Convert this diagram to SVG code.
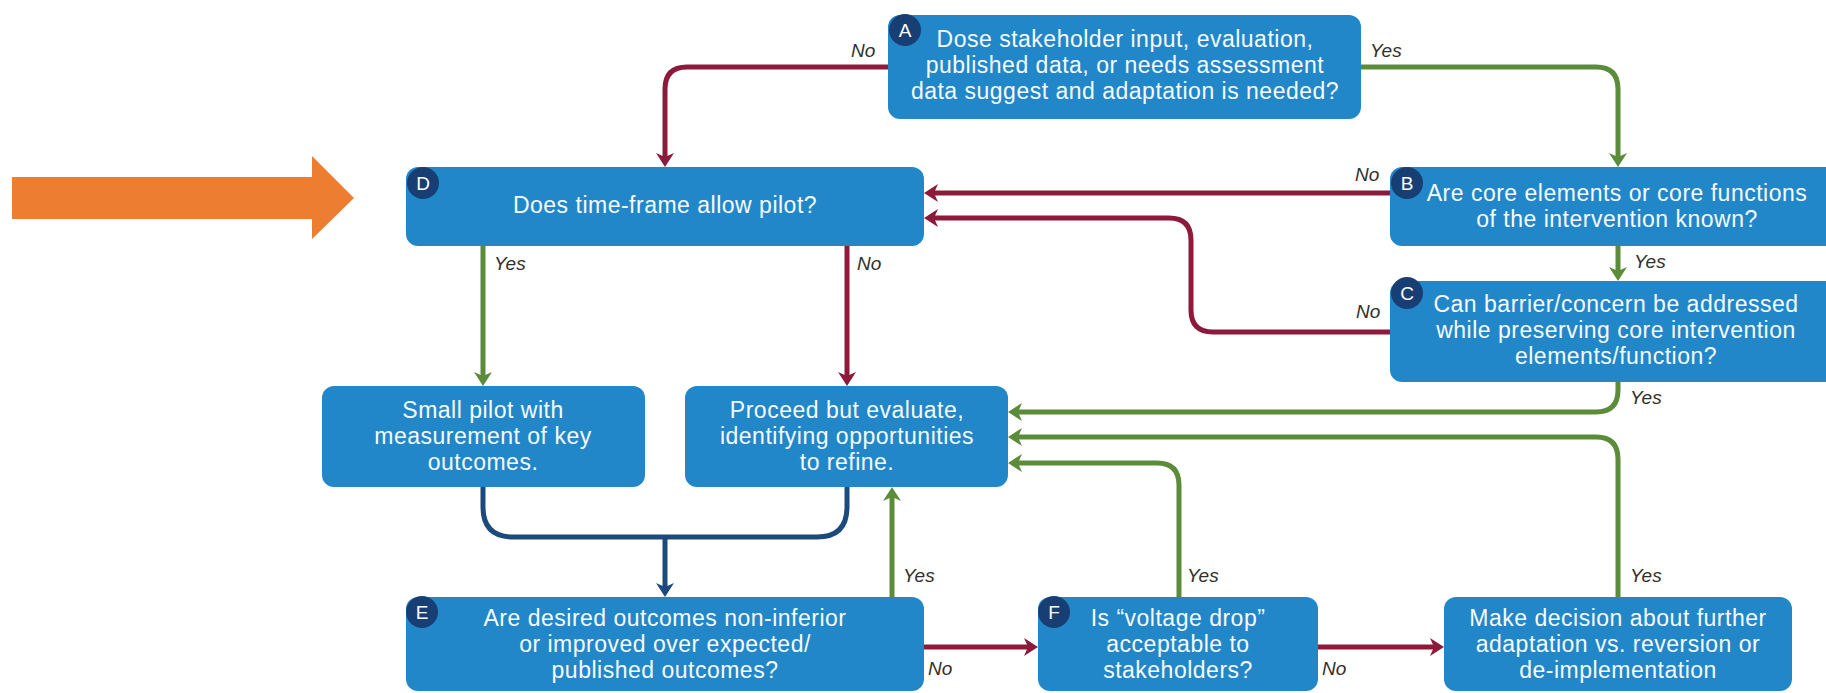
<svg xmlns="http://www.w3.org/2000/svg" width="1826" height="693" viewBox="0 0 1826 693">
<style>
.box{fill:#2187c8}
.badge{fill:#173f73}
.bl{font-family:"Liberation Sans",Arial,sans-serif;font-size:19px;fill:#ffffff;text-anchor:middle}
.t{font-family:"Liberation Sans",Arial,sans-serif;font-size:23px;letter-spacing:0.5px;fill:#f7fbfe;text-anchor:middle}
.lbl{font-family:"Liberation Sans",Arial,sans-serif;font-style:italic;font-size:19px;fill:#33302c}
.g{stroke:#5b8c3a;stroke-width:5;fill:none}
.r{stroke:#8c1a3b;stroke-width:5;fill:none}
.n{stroke:#1d4a7c;stroke-width:5;fill:none}
</style>
<defs>
<marker id="ag" markerUnits="userSpaceOnUse" markerWidth="14" markerHeight="18" refX="4" refY="9" orient="auto"><path d="M0,0 L14,9 L0,18 L4,9 z" fill="#5b8c3a"/></marker>
<marker id="ar" markerUnits="userSpaceOnUse" markerWidth="14" markerHeight="18" refX="4" refY="9" orient="auto"><path d="M0,0 L14,9 L0,18 L4,9 z" fill="#8c1a3b"/></marker>
<marker id="an" markerUnits="userSpaceOnUse" markerWidth="14" markerHeight="18" refX="4" refY="9" orient="auto"><path d="M0,0 L14,9 L0,18 L4,9 z" fill="#1d4a7c"/></marker>
</defs>
<rect width="1826" height="693" fill="#ffffff"/>
<polygon id="pointer" points="12,177 312,177 312,156 354,198 312,239 312,219 12,219" fill="#ed7d31"/>

<g id="connectors">
<path class="r" d="M888 67 H687 Q665 67 665 89 V157" marker-end="url(#ar)"/>
<path class="g" d="M1361 67 H1596 Q1618 67 1618 89 V157" marker-end="url(#ag)"/>
<path class="r" d="M1390 193 H934" marker-end="url(#ar)"/>
<path class="r" d="M1390 332 H1213 Q1191 332 1191 310 V240 Q1191 218 1169 218 H934" marker-end="url(#ar)"/>
<path class="g" d="M1618 246 V271" marker-end="url(#ag)"/>
<path class="g" d="M1618 382 V390 Q1618 412 1596 412 H1018" marker-end="url(#ag)"/>
<path class="g" d="M1618 597 V459 Q1618 437 1596 437 H1018" marker-end="url(#ag)"/>
<path class="g" d="M1179 597 V485 Q1179 463 1157 463 H1018" marker-end="url(#ag)"/>
<path class="g" d="M483 246 V376" marker-end="url(#ag)"/>
<path class="r" d="M847 246 V376" marker-end="url(#ar)"/>
<path class="n" d="M483 487 V507 Q483 537 513 537 H817 Q847 537 847 507 V487"/>
<path class="n" d="M665 537 V587" marker-end="url(#an)"/>
<path class="g" d="M892 597 V497" marker-end="url(#ag)"/>
<path class="r" d="M924 647 H1028" marker-end="url(#ar)"/>
<path class="r" d="M1318 647 H1434" marker-end="url(#ar)"/>
<text class="lbl" x="851" y="57">No</text>
<text class="lbl" x="1370" y="57">Yes</text>
<text class="lbl" x="1355" y="181">No</text>
<text class="lbl" x="1634" y="268">Yes</text>
<text class="lbl" x="1356" y="318">No</text>
<text class="lbl" x="1630" y="404">Yes</text>
<text class="lbl" x="494" y="270">Yes</text>
<text class="lbl" x="857" y="270">No</text>
<text class="lbl" x="903" y="582">Yes</text>
<text class="lbl" x="1187" y="582">Yes</text>
<text class="lbl" x="1630" y="582">Yes</text>
<text class="lbl" x="928" y="675">No</text>
<text class="lbl" x="1322" y="675">No</text>
</g>

<g id="nodeA">
<rect class="box" x="888" y="15" width="473" height="104" rx="12"/>
<circle class="badge" cx="905" cy="30" r="16"/>
<text class="bl" x="905" y="37">A</text>
<text class="t" x="1125" y="47">Dose stakeholder input, evaluation,<tspan x="1125" dy="26">published data, or needs assessment</tspan><tspan x="1125" dy="26">data suggest and adaptation is needed?</tspan></text>
</g>

<g id="nodeD">
<rect class="box" x="406" y="167" width="518" height="79" rx="12"/>
<circle class="badge" cx="423" cy="183" r="16"/>
<text class="bl" x="423" y="190">D</text>
<text class="t" x="665" y="213">Does time-frame allow pilot?</text>
</g>

<g id="nodeB">
<rect class="box" x="1390" y="167" width="460" height="79" rx="12"/>
<circle class="badge" cx="1407" cy="183" r="16"/>
<text class="bl" x="1407" y="190">B</text>
<text class="t" x="1617" y="201">Are core elements or core functions<tspan x="1617" dy="26">of the intervention known?</tspan></text>
</g>

<g id="nodeC">
<rect class="box" x="1390" y="281" width="460" height="101" rx="12"/>
<circle class="badge" cx="1407" cy="293" r="16"/>
<text class="bl" x="1407" y="300">C</text>
<text class="t" x="1616" y="312">Can barrier/concern be addressed<tspan x="1616" dy="26">while preserving core intervention</tspan><tspan x="1616" dy="26">elements/function?</tspan></text>
</g>

<g id="nodeSmallPilot">
<rect class="box" x="322" y="386" width="323" height="101" rx="12"/>
<text class="t" x="483" y="418">Small pilot with<tspan x="483" dy="26">measurement of key</tspan><tspan x="483" dy="26">outcomes.</tspan></text>
</g>

<g id="nodeProceed">
<rect class="box" x="685" y="386" width="323" height="101" rx="12"/>
<text class="t" x="847" y="418">Proceed but evaluate,<tspan x="847" dy="26">identifying opportunities</tspan><tspan x="847" dy="26">to refine.</tspan></text>
</g>

<g id="nodeE">
<rect class="box" x="406" y="597" width="518" height="94" rx="12"/>
<circle class="badge" cx="422" cy="612" r="16"/>
<text class="bl" x="422" y="619">E</text>
<text class="t" x="665" y="626">Are desired outcomes non-inferior<tspan x="665" dy="26">or improved over expected/</tspan><tspan x="665" dy="26">published outcomes?</tspan></text>
</g>

<g id="nodeF">
<rect class="box" x="1038" y="597" width="280" height="94" rx="12"/>
<circle class="badge" cx="1054" cy="612" r="16"/>
<text class="bl" x="1054" y="619">F</text>
<text class="t" x="1178" y="626">Is “voltage drop”<tspan x="1178" dy="26">acceptable to</tspan><tspan x="1178" dy="26">stakeholders?</tspan></text>
</g>

<g id="nodeDecision">
<rect class="box" x="1444" y="597" width="348" height="94" rx="12"/>
<text class="t" x="1618" y="626">Make decision about further<tspan x="1618" dy="26">adaptation vs. reversion or</tspan><tspan x="1618" dy="26">de-implementation</tspan></text>
</g>
</svg>
